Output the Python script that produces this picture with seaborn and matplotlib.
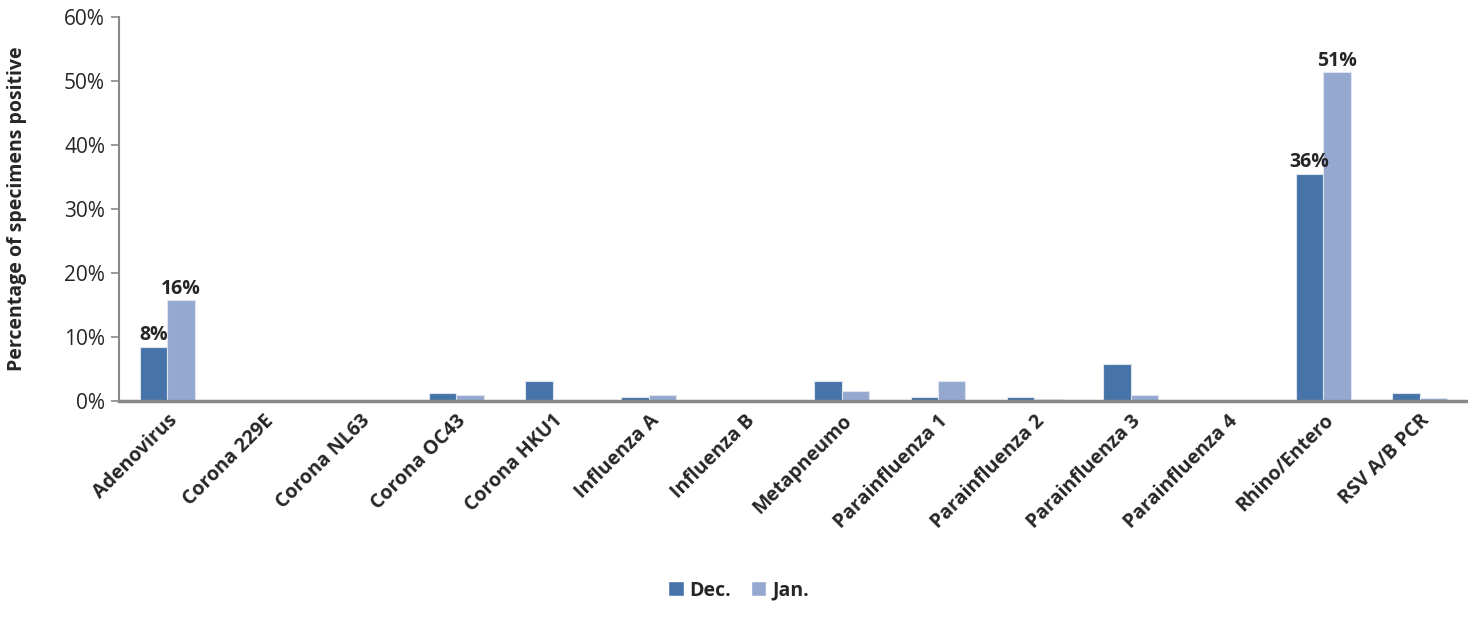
import pandas as pd
import numpy as np
import matplotlib
matplotlib.use("Agg")
import matplotlib.pyplot as plt
import seaborn as sns
from matplotlib.patches import Patch

categories = ['Adenovirus', 'Corona 229E', 'Corona NL63', 'Corona OC43', 'Corona HKU1',
              'Influenza A', 'Influenza B', 'Metapneumo', 'Parainfluenza 1', 'Parainfluenza 2',
              'Parainfluenza 3', 'Parainfluenza 4', 'Rhino/Entero', 'RSV A/B PCR']
dec_values = [8.4, 0, 0, 1.3, 3.2, 0.6, 0, 3.2, 0.6, 0.6, 5.8, 0, 35.5, 1.3]
jan_values = [15.7, 0, 0, 1.0, 0, 1.0, 0, 1.5, 3.2, 0.4, 1.0, 0, 51.3, 0.5]
dec_labels = ['8%', None, None, None, None, None, None, None, None, None, None, None, '36%', None]
jan_labels = ['16%', None, None, None, None, None, None, None, None, None, None, None, '51%', None]
months = ['Dec.', 'Jan.']
colors = ['#4674a8', '#95a9d0']

df = pd.DataFrame({
    'virus': categories * 2,
    'month': [months[0]] * len(categories) + [months[1]] * len(categories),
    'pct': dec_values + jan_values,
})

sns.set_style('white')
plt.rcParams['font.family'] = ['Open Sans', 'DejaVu Sans']

fig = plt.figure(figsize=(14.68, 6.18), dpi=100)
ax = fig.add_axes([0.081, 0.351, 0.919, 0.622])

sns.barplot(data=df, x='virus', y='pct', hue='month', palette=colors, saturation=1,
            width=0.57, edgecolor='#dde4f0', linewidth=0.8, legend=False, ax=ax)

# value labels on the big bars only
for container, labels in zip(ax.containers, [dec_labels, jan_labels]):
    for bar, lab in zip(container, labels):
        if lab is None:
            continue
        ax.text(bar.get_x() + bar.get_width() / 2, bar.get_height() + 0.3, lab,
                ha='center', va='bottom', fontsize=14, fontweight='bold')

ax.set_ylim(0, 60)
ax.set_xlim(-0.5, len(categories) - 0.5)
ax.set_yticks(range(0, 61, 10))
ax.set_yticklabels([f'{v}%' for v in range(0, 61, 10)], fontsize=15)
ax.set_xticks(range(len(categories)))
ax.set_xticklabels(categories, rotation=45, ha='right', rotation_mode='anchor',
                   fontsize=14, fontweight='bold')
ax.set_xlabel('')
ax.set_ylabel('Percentage of specimens positive', fontsize=14, fontweight='bold')
ax.yaxis.set_label_coords(-0.068, 0.5)

for side in ['top', 'right']:
    ax.spines[side].set_visible(False)
for side in ['left', 'bottom']:
    ax.spines[side].set_color('#888888')
    ax.spines[side].set_linewidth(1.5)
ax.spines['bottom'].set_linewidth(2.5)
ax.tick_params(axis='y', which='both', left=True, length=6, color='#888888', width=1.2, pad=4)
ax.tick_params(axis='x', length=0, pad=7)

handles = [Patch(facecolor=c, label=m) for c, m in zip(colors, months)]
fig.legend(handles=handles, loc='lower center', bbox_to_anchor=(0.503, 0.0), ncol=2,
           frameon=False, prop={'weight': 'bold', 'size': 14},
           handlelength=0.8, handleheight=0.8, handletextpad=0.3, columnspacing=1.0)

fig.savefig('out.png', dpi=100)
